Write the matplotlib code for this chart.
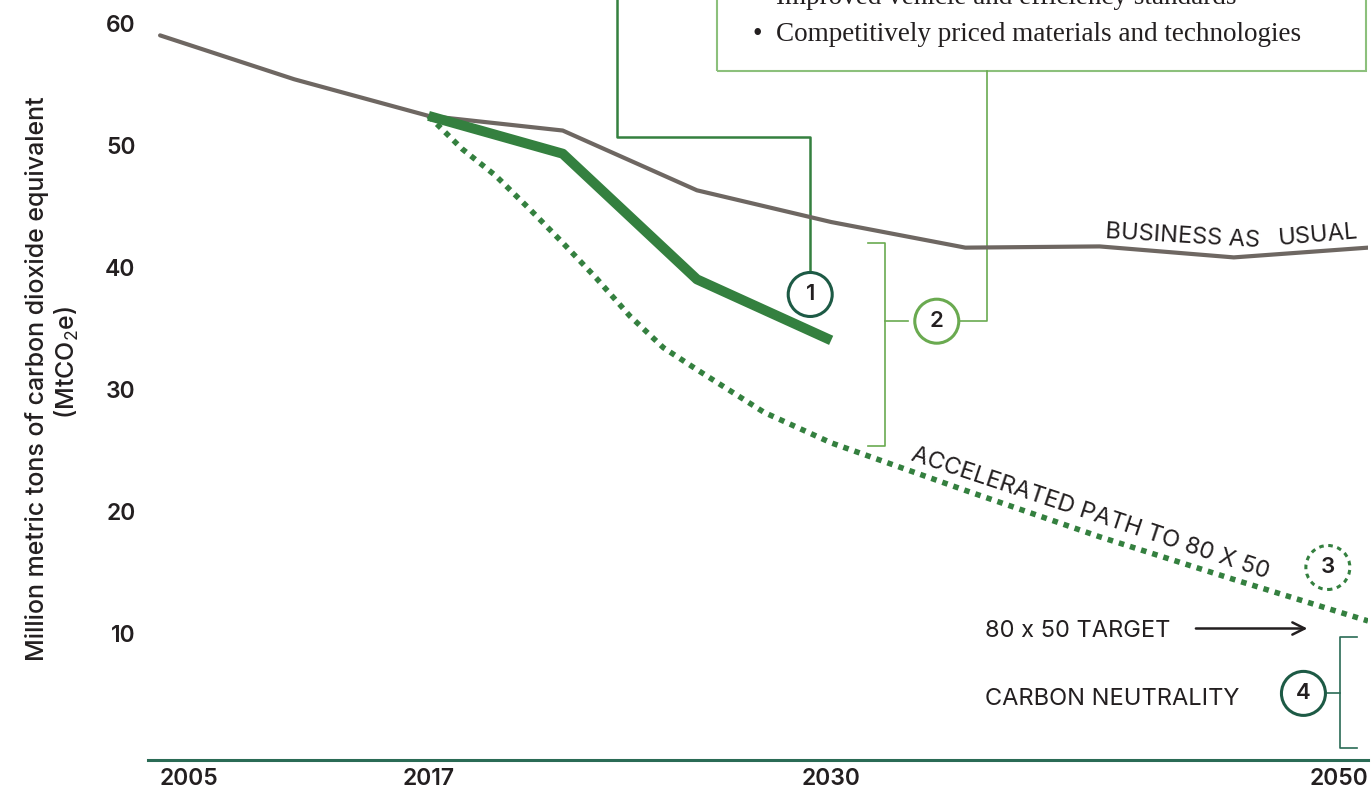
import matplotlib
matplotlib.use("Agg")
import matplotlib.pyplot as plt
from matplotlib.patches import Ellipse, Rectangle

plt.rcParams['font.family'] = ['Inter', 'DejaVu Sans']
plt.rcParams['mathtext.fontset'] = 'custom'
plt.rcParams['mathtext.rm'] = 'Inter'

# data (x = position along the schematic time axis)
year_labels = ['2005', '2017', '2030', '2050']
year_pos = [0, 2, 5, 9]

bau_x = [0, 1, 2, 3, 4, 5, 6, 7, 8, 9]
bau_y = [59.0, 55.4, 52.4, 51.2, 46.3, 43.7, 41.6, 41.7, 40.8, 41.6]

policy_x = [2, 3, 4, 5]
policy_y = [52.4, 49.3, 39.0, 34.0]

accel_x = [2, 2.25, 2.5, 2.75, 3, 3.25, 3.5, 3.75, 4, 4.5, 5, 6, 7, 8, 9]
accel_y = [52.4, 49.7, 47.5, 44.8, 42.0, 39.1, 36.0, 33.4, 31.6, 28.1, 25.6, 21.7, 17.9, 14.4, 11.0]

gray = '#6e6762'
green = '#34803f'
light_green = '#6aaa50'
dark_teal = '#1d5a45'
ink = '#231f20'

fig = plt.figure(figsize=(13.72, 7.89), dpi=100)
ax = fig.add_axes([148 / 1372, 29 / 789, 1220 / 1372, 760 / 789])
ax.set_xlim(-0.09, 9.0)
ax.set_ylim(-0.4, 61.9)

ax.plot(bau_x, bau_y, color=gray, lw=3.0, solid_capstyle='round', zorder=3)
ax.plot(policy_x, policy_y, color=green, lw=7.2, solid_capstyle='butt', zorder=4)
ax.plot(accel_x, accel_y, color=green, lw=4.0, linestyle=(0, (1.0, 1.1)), zorder=4)

# axes styling
for s in ['top', 'right', 'left']:
    ax.spines[s].set_visible(False)
ax.spines['bottom'].set_color('#2a6b55')
ax.spines['bottom'].set_linewidth(2.2)
ax.set_yticks([10, 20, 30, 40, 50, 60])
ax.set_xticks(year_pos)
ax.set_xticklabels(year_labels)
ax.tick_params(axis='both', length=0, labelsize=16.5, colors=ink)
ax.tick_params(axis='y', pad=9)
ax.tick_params(axis='x', pad=6)
for lab in ax.get_xticklabels() + ax.get_yticklabels():
    lab.set_fontweight('semibold')
xl = ax.get_xticklabels()
xl[0].set_ha('left')
xl[-1].set_ha('right')

fig.text(0.027, 0.52, 'Million metric tons of carbon dioxide equivalent', rotation=90,
         ha='center', va='center', fontsize=18, fontweight='medium', color=ink)
fig.text(0.049, 0.54, '(MtCO$_2$e)', rotation=90, ha='center', va='center',
         fontsize=18, fontweight='medium', color=ink)

# text box (cut at top, as in the original)
ax.add_patch(Rectangle((4.148, 56.12), 8.987 - 4.148, 20, fill=False,
                       edgecolor='#8cc07c', lw=1.5, zorder=2))
box_font = ['Liberation Serif', 'DejaVu Serif']
ax.text(4.42, 61.55, '\u2022  Improved vehicle and efficiency standards', family=box_font,
        fontsize=19.5, color=ink, va='baseline', clip_on=True)
ax.text(4.42, 58.55, '\u2022  Competitively priced materials and technologies', family=box_font,
        fontsize=19.5, color=ink, va='baseline', clip_on=True)

# connector for circle 1
ax.plot([4.844, 4.844, 3.403, 3.403], [39.6, 50.68, 50.68, 63], color=green, lw=1.8,
        clip_on=True, zorder=2)
# connector for circle 2 and its bracket
ax.plot([5.95, 6.16, 6.16], [35.57, 35.57, 56.12], color=light_green, lw=1.2, zorder=2)
ax.plot([5.278, 5.402, 5.402, 5.278], [41.99, 41.99, 25.33, 25.33], color=light_green, lw=1.2, zorder=2)
ax.plot([5.402, 5.576], [35.57, 35.57], color=light_green, lw=1.2, zorder=2)
# bracket for circle 4
ax.plot([8.917, 8.788, 8.788, 8.917], [9.65, 9.65, 0.55, 0.55], color='#2a6b55', lw=1.2, zorder=2)
ax.plot([8.69, 8.788], [5.06, 5.06], color='#2a6b55', lw=1.2, zorder=2)

# numbered circles
cw, ch = 44 / 134.2, 44 / 12.2
circles = [(4.844, 37.76, '1', dark_teal, '-'),
           (5.787, 35.57, '2', light_green, '-'),
           (8.701, 15.38, '3', green, (0, (1.5, 1.5))),
           (8.519, 5.06, '4', dark_teal, '-')]
for cx, cy, num, col, ls in circles:
    ax.add_patch(Ellipse((cx, cy), cw, ch, facecolor='white', edgecolor=col,
                         lw=2.2, linestyle=ls, zorder=5))
    ax.text(cx, cy, num, ha='center', va='center', fontsize=16, fontweight='semibold',
            color=ink, zorder=6)

# labels
lab_kw = dict(fontsize=17, fontweight='normal', color=ink)
ax.text(7.04, 42.38, 'BUSINESS AS', rotation=-3.4, rotation_mode='anchor',
        ha='left', va='baseline', **lab_kw)
ax.text(8.927, 42.38, 'USUAL', rotation=5, rotation_mode='anchor',
        ha='right', va='baseline', **lab_kw)
ax.text(5.589, 24.18, 'ACCELERATED PATH TO 80 X 50', rotation=-18.4, rotation_mode='anchor',
        ha='left', va='baseline', **lab_kw)
ax.text(6.147, 10.38, '80 x 50 TARGET', ha='left', va='center_baseline', **lab_kw)
ax.text(6.147, 4.84, 'CARBON NEUTRALITY', ha='left', va='center_baseline', **lab_kw)
ax.annotate('', xy=(8.569, 10.38), xytext=(7.697, 10.38),
            arrowprops=dict(arrowstyle='->', color=ink, lw=1.8, mutation_scale=22))

fig.savefig('out.png', dpi=100)
